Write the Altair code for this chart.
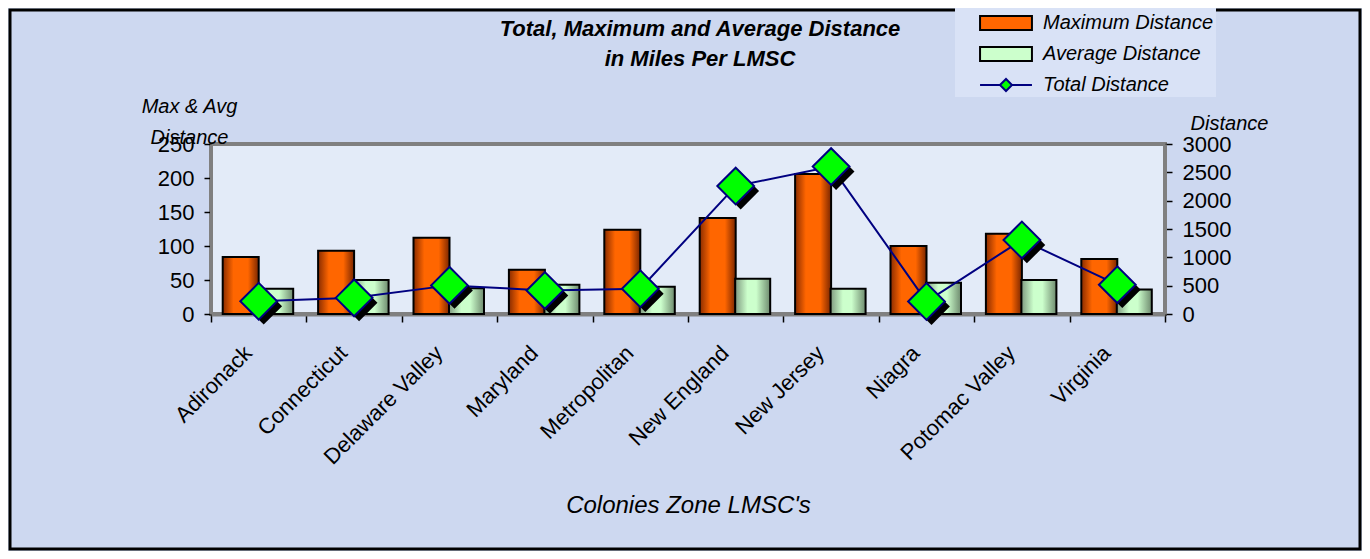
import altair as alt
import pandas as pd

categories = ["Adironack", "Connecticut", "Delaware Valley", "Maryland", "Metropolitan",
              "New England", "New Jersey", "Niagra", "Potomac Valley", "Virginia"]
max_distance = [84, 93, 112, 65, 124, 141, 206, 100, 118, 81]
avg_distance = [37, 50, 38, 43, 40, 52, 37, 46, 50, 36]
total_distance = [225, 285, 505, 416, 446, 2258, 2602, 220, 1307, 517]
series_names = ["Maximum Distance", "Average Distance", "Total Distance"]
left_ticks = [0, 50, 100, 150, 200, 250]
right_ticks = [0, 500, 1000, 1500, 2000, 2500, 3000]

df = pd.DataFrame({
    "lmsc": categories,
    "max": max_distance,
    "avg": avg_distance,
    "total": total_distance,
})

FONT = "Liberation Sans"

x_enc = alt.X(
    "lmsc:N", sort=categories,
    scale=alt.Scale(paddingInner=0, paddingOuter=0),
    axis=alt.Axis(
        title="Colonies Zone LMSC's", titleFont=FONT, titleFontSize=24,
        titleFontStyle="italic", titleFontWeight="normal", titleColor="black",
        titleX=477, titleY=198, titleAlign="center", titleBaseline="alphabetic",
        labelAngle=315, labelFont=FONT, labelFontSize=22, labelColor="black",
        labelPadding=20, labelOffset=-18, labelLimit=400, labelOverlap=False,
        tickBand="extent", tickSize=8, tickColor="black", tickWidth=1.5,
        domainColor="#808080", domainWidth=4,
    ),
)

base = alt.Chart(df).encode(x=x_enc)

max_grad = alt.Gradient(
    gradient="linear", x1=0, x2=1, y1=0, y2=0,
    stops=[alt.GradientStop(color="#8a2c00", offset=0),
           alt.GradientStop(color="#ff6600", offset=0.3),
           alt.GradientStop(color="#ff6600", offset=0.7),
           alt.GradientStop(color="#7a2600", offset=1)],
)
avg_grad = alt.Gradient(
    gradient="linear", x1=0, x2=1, y1=0, y2=0,
    stops=[alt.GradientStop(color="#7f9a80", offset=0),
           alt.GradientStop(color="#ccffcc", offset=0.35),
           alt.GradientStop(color="#ccffcc", offset=0.6),
           alt.GradientStop(color="#6e8a6e", offset=1)],
)

left_axis = alt.Axis(
    values=left_ticks, title=["Max & Avg", "Distance"], titleFont=FONT,
    titleFontSize=20, titleFontStyle="italic", titleFontWeight="normal",
    titleColor="black", titleAngle=0, titleX=-22, titleY=-32,
    titleAlign="center", titleBaseline="alphabetic", titleLineHeight=31,
    labelFont=FONT, labelFontSize=22, labelColor="black", labelPadding=10,
    labelOverlap=False, labelFlush=False,
    tickSize=7, tickColor="black", tickWidth=1.5, grid=False,
    domainColor="#808080", domainWidth=3,
)
left_scale = alt.Scale(domain=[0, 250], nice=False)

bars_max = base.mark_bar(width=36, xOffset=-18, fill=max_grad, stroke="black",
                         strokeWidth=2).encode(
    y=alt.Y("max:Q", scale=left_scale, axis=left_axis))
bars_avg = base.mark_bar(width=35, xOffset=17, fill=avg_grad, stroke="black",
                         strokeWidth=2).encode(
    y=alt.Y("avg:Q", scale=left_scale, axis=left_axis))
left_layer = alt.layer(bars_max, bars_avg)

y_right = alt.Y(
    "total:Q",
    scale=alt.Scale(domain=[0, 3000], nice=False),
    axis=alt.Axis(
        orient="right", values=right_ticks, format="d", title="Distance",
        titleFont=FONT, titleFontSize=20, titleFontStyle="italic",
        titleFontWeight="normal", titleColor="black", titleAngle=0,
        titleX=64, titleY=-15, titleAlign="center", titleBaseline="alphabetic",
        labelFont=FONT, labelFontSize=22, labelColor="black", labelPadding=10,
        labelOverlap=False, labelFlush=False,
        tickSize=7, tickColor="black", tickWidth=1.5, grid=False,
        domainColor="#808080", domainWidth=3,
    ),
)

rect_path = "M-1.73,-0.47H1.73V0.47H-1.73Z"
line_path = "M-1.73,0H-0.4M0.4,0H1.73M-0.4,0L0,-0.4L0.4,0L0,0.4Z"

legend_layer = base.mark_point(filled=True, size=1, opacity=1, strokeWidth=2).encode(
    y=y_right,
    color=alt.Color("series:N", scale=alt.Scale(domain=series_names,
                    range=["#ff6600", "#ccffcc", "#00ff00"]),
                    legend=alt.Legend(title=None)),
    shape=alt.Shape("series:N", scale=alt.Scale(domain=series_names,
                    range=[rect_path, rect_path, line_path]),
                    legend=alt.Legend(title=None)),
    stroke=alt.Stroke("series:N", scale=alt.Scale(domain=series_names,
                      range=["black", "black", "#000080"]),
                      legend=alt.Legend(title=None)),
).transform_calculate(series="'Total Distance'")

line = base.mark_line(color="#000080", strokeWidth=2).encode(y=y_right)
shadow = base.mark_point(shape="diamond", filled=True, size=1350, fill="black",
                         opacity=1, xOffset=5, yOffset=5).encode(y=y_right)
diamonds = base.mark_point(shape="diamond", filled=True, size=1350, fill="#00ff00",
                           stroke="#000080", strokeWidth=2, opacity=1).encode(y=y_right)
right_layer = alt.layer(legend_layer, line, shadow, diamonds)

frame = alt.Chart(pd.DataFrame({"f": [0]})).mark_rect(
    fill="transparent", stroke="black", strokeWidth=3
).encode(x=alt.value(-201), x2=alt.value(1149), y=alt.value(-134), y2=alt.value(405))

chart = alt.layer(left_layer, right_layer, frame).resolve_scale(y="independent").properties(
    width=954, height=170,
    padding={"left": 203, "top": 136, "right": 197, "bottom": 237},
    autosize=alt.AutoSizeParams(type="none"),
    background="#cdd8f0",
    title=alt.TitleParams(
        text=["Total, Maximum and Average Distance", "in Miles Per LMSC"],
        font=FONT, fontSize=22, fontStyle="italic", fontWeight="bold",
        color="black", anchor="middle", dx=12, offset=0, dy=66, lineHeight=30,
    ),
).configure_view(
    fill="#e3ebf8", stroke="#808080", strokeWidth=4,
).configure_legend(
    orient="none", legendX=744, legendY=-139, padding=2,
    symbolSize=900, symbolOffset=33, labelOffset=21, rowPadding=3,
    symbolStrokeWidth=2, labelFont=FONT, labelFontSize=20,
    labelFontStyle="italic", labelColor="black", labelLimit=400,
    fillColor="#d9e2f6",
)

chart.save("out.html", embed_options={"renderer": "svg", "actions": False})
